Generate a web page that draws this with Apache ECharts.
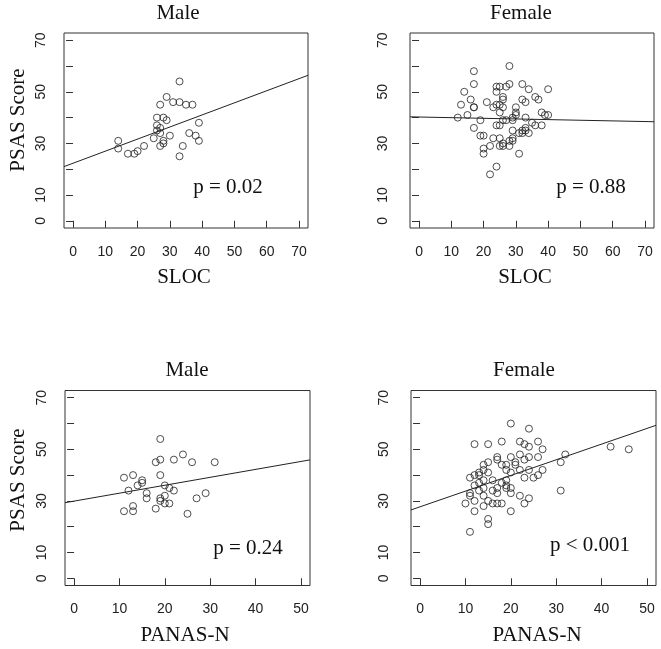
<!DOCTYPE html>
<html><head><meta charset="utf-8">
<script src="https://cdn.jsdelivr.net/npm/echarts@6/dist/echarts.min.js"></script>
<style>html,body{margin:0;padding:0;background:#fff}#c{width:661px;height:649px}</style>
</head><body><div id="c"></div>
<script>
// ---- data ----
const maleSloc = [[14,31],[14,28],[17,26],[19,26],[20,27],[22,29],[25,32],[26,40],[26,37],[26,35],
  [27,45],[27,36],[27,34],[27,29],[28,40],[28,31],[28,30],[29,39],[29,48],[30,33],[31,46],[33,54],
  [33,46],[33,25],[34,29],[35,45],[36,34],[37,45],[38,33],[39,38],[39,31]];
const femaleSloc = [[12,40],[13,45],[14,50],[15,41],[16,47],[17,58],[17,53],[17,44],[17,44],[17,36],
  [19,39],[19,33],[20,33],[20,28],[20,26],[21,46],[22,18],[22,29],[23,44],[23,32],[24,21],[24,50],
  [24,52],[24,45],[24,37],[25,52],[25,45],[25,42],[25,37],[25,29],[25,32],[26,48],[26,47],[26,44],
  [26,39],[26,29],[26,30],[27,52],[27,39],[28,60],[28,53],[28,31],[28,29],[29,39],[29,40],[29,35],
  [29,32],[29,31],[30,44],[30,42],[30,41],[31,26],[31,34],[32,53],[32,47],[32,35],[32,34],[33,46],
  [33,40],[33,36],[33,35],[34,51],[34,34],[35,38],[36,48],[36,37],[37,47],[38,42],[38,37],[39,41],
  [40,51],[40,41]];
const malePanas = [[11,39],[11,26],[12,34],[13,40],[13,28],[13,26],[14,36],[15,38],[15,37],[16,33],
  [16,31],[18,45],[18,27],[19,54],[19,46],[19,40],[19,31],[19,30],[20,36],[20,32],[20,29],[21,35],
  [21,29],[22,46],[22,34],[24,48],[25,25],[26,45],[27,31],[29,33],[31,45]];
const femalePanas = [[10,29],[11,18],[11,39],[11,33],[11,32],[12,52],[12,40],[12,36],[12,30],[12,26],
  [13,41],[13,40],[13,37],[13,34],[14,44],[14,42],[14,38],[14,35],[14,32],[14,28],[15,52],[15,45],
  [15,41],[15,30],[15,23],[15,21],[16,38],[16,34],[16,29],[17,47],[17,46],[17,35],[17,33],[17,29],
  [18,53],[18,44],[18,37],[18,29],[19,44],[19,42],[19,38],[19,36],[19,35],[20,60],[20,47],[20,41],
  [20,35],[20,33],[20,26],[21,45],[21,44],[22,53],[22,48],[22,42],[22,32],[23,52],[23,46],[23,39],
  [23,29],[24,58],[24,51],[24,47],[24,42],[24,31],[25,39],[26,53],[26,47],[26,40],[27,50],[27,42],
  [31,45],[31,34],[32,48],[42,51],[46,50]];
// regression lines: endpoints at the plot edges
const fitMaleSloc = [[-2.8,21.0],[72.8,56.4]];
const fitFemaleSloc = [[-2.8,40.3],[72.8,38.4]];
const fitMalePanas = [[-2,29.3],[52,45.9]];
const fitFemalePanas = [[-2,26.5],[52,59.3]];
const slocTicks = [0,10,20,30,40,50,60,70];
const panasTicks = [0,10,20,30,40,50];
const yTicks = [0,10,20,30,40,50,60,70];
const yTickLabels = [0,10,30,50,70];
const titles = ['Male','Female','Male','Female'];
const xNames = ['SLOC','SLOC','PANAS-N','PANAS-N'];
const yName = 'PSAS Score';
const pTexts = ['p = 0.02','p = 0.88','p = 0.24','p < 0.001'];

// ---- layout ----
const panels = [
  {pts: maleSloc, fit: fitMaleSloc, ticks: slocTicks, xr: [-2.8,72.8], grid: {left:64, top:33, width:244, height:195}, ymargin:16,
   title:[178,13], xname:[184,277], p:[228,187], yname:[18,120]},
  {pts: femaleSloc, fit: fitFemaleSloc, ticks: slocTicks, xr: [-2.8,72.8], grid: {left:410, top:33, width:244, height:195}, ymargin:20,
   title:[521,13], xname:[525,277], p:[591,187]},
  {pts: malePanas, fit: fitMalePanas, ticks: panasTicks, xr: [-2,52], grid: {left:65, top:390.5, width:245, height:195}, ymargin:16,
   title:[187,370], xname:[185,635], p:[248,548], yname:[18,480]},
  {pts: femalePanas, fit: fitFemalePanas, ticks: panasTicks, xr: [-2,52], grid: {left:411, top:390.5, width:245, height:195}, ymargin:20,
   title:[524,370], xname:[537,635], p:[590,545]}
];

const serif = '"Liberation Serif","DejaVu Serif",serif';
const sans = '"Liberation Sans",Arial,sans-serif';
const ink = '#222';

const grid = [], xAxis = [], yAxis = [], series = [], graphic = [];
panels.forEach((pn, i) => {
  grid.push(Object.assign({show:true, borderColor:'#333', borderWidth:1, backgroundColor:'transparent'}, pn.grid));
  xAxis.push({gridIndex:i, type:'value', min:pn.xr[0], max:pn.xr[1],
    axisLine:{show:false}, splitLine:{show:false},
    axisTick:{show:true, length:7, customValues:pn.ticks, lineStyle:{color:'#333'}},
    axisLabel:{customValues:pn.ticks, margin:17, fontFamily:sans, fontSize:14, color:ink}});
  yAxis.push({gridIndex:i, type:'value', min:-2.8, max:72.8,
    axisLine:{show:false}, splitLine:{show:false},
    axisTick:{show:true, length:7, customValues:yTicks, lineStyle:{color:'#333'}},
    axisLabel:{customValues:yTickLabels, rotate:90, margin:pn.ymargin, fontFamily:sans, fontSize:14, color:ink}});
  series.push({type:'scatter', xAxisIndex:i, yAxisIndex:i, data:pn.pts, symbol:'circle', symbolSize:7,
    itemStyle:{color:'rgba(0,0,0,0)', borderColor:'#222', borderWidth:1}, silent:true});
  series.push({type:'line', xAxisIndex:i, yAxisIndex:i, data:pn.fit, showSymbol:false, symbol:'none',
    lineStyle:{color:'#222', width:1}, silent:true, clip:true});
  const txt = (x, y, text, rot) => graphic.push({type:'text', x:x, y:y, rotation:rot||0, silent:true,
    style:{text:text, font:'21px ' + serif, fill:'#111', align:'center', verticalAlign:'middle'}});
  txt(pn.title[0], pn.title[1], titles[i]);
  txt(pn.xname[0], pn.xname[1], xNames[i]);
  txt(pn.p[0], pn.p[1], pTexts[i]);
  if (pn.yname) txt(pn.yname[0], pn.yname[1], yName, Math.PI/2);
});

const chart = echarts.init(document.getElementById('c'), null, {renderer:'canvas'});
chart.setOption({animation:false, backgroundColor:'#fff', grid, xAxis, yAxis, series, graphic});
</script></body></html>
